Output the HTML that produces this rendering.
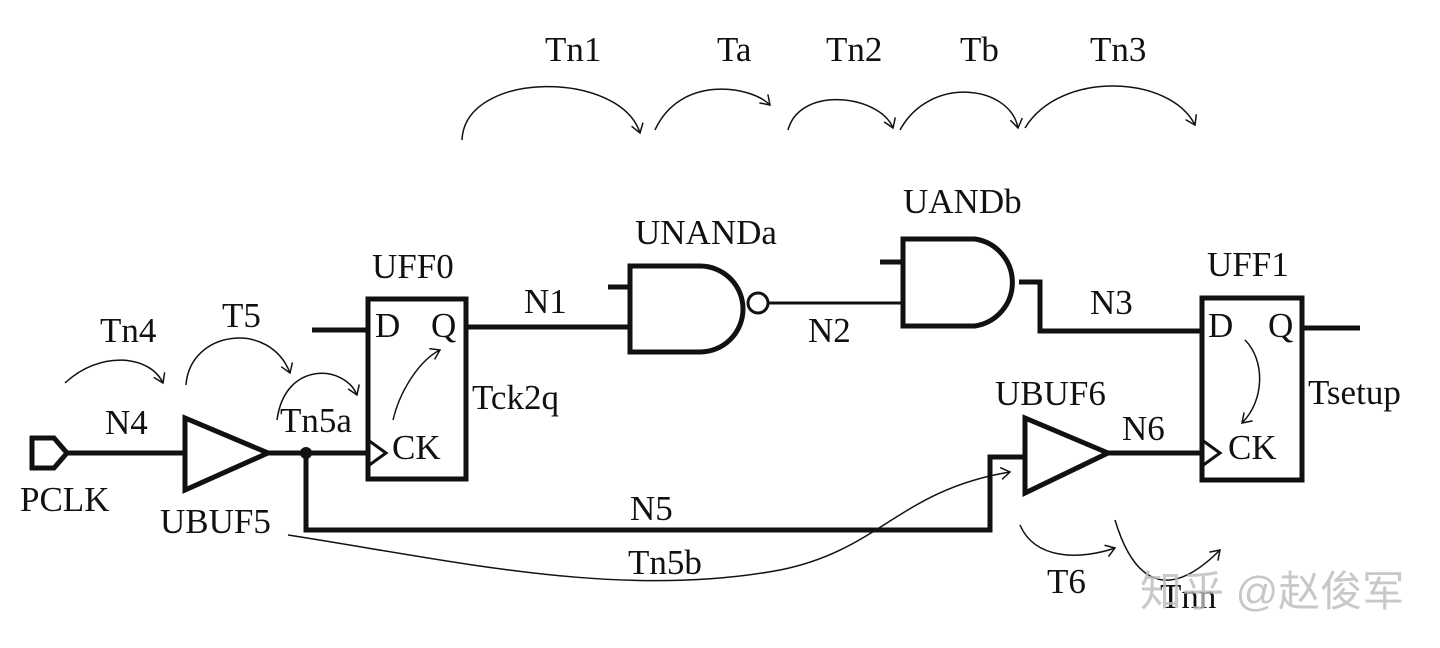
<!DOCTYPE html>
<html><head><meta charset="utf-8"><style>
html,body{margin:0;padding:0;background:#fff;}
svg{display:block}
text{font-family:"Liberation Serif",serif;font-size:35px;fill:#111;}
</style></head><body>
<svg width="1440" height="648" viewBox="0 0 1440 648" xmlns="http://www.w3.org/2000/svg">
<defs>
<marker id="a" markerWidth="14" markerHeight="14" refX="10" refY="7" orient="auto" markerUnits="userSpaceOnUse">
<path d="M1,1 L10,7 L1,13" fill="none" stroke="#111" stroke-width="1.5"/></marker>
</defs>
<g fill="none" stroke="#111" stroke-width="5">
<path d="M32,436 L32,470 M30,438 L54,438 L67,453 L54,468 L30,468"/>
<line x1="67" y1="453" x2="185" y2="453"/>
<path d="M185,418 L185,490 L268,453 Z"/>
<line x1="268" y1="453" x2="368" y2="453"/>
<path d="M306,453 L306,530 L990,530 L990,457 L1025,457"/>
<rect x="368" y="299" width="98" height="180"/>
<line x1="312" y1="330" x2="368" y2="330"/>
<line x1="466" y1="327" x2="630" y2="327"/>
<path d="M630,266 L630,352 L700,352 A43,43 0 0 0 700,266 Z"/>
<line x1="608" y1="287" x2="630" y2="287"/>
<path d="M903,239 L903,326 L975,326 A44,44 0 0 0 975,239 Z"/>
<line x1="880" y1="262" x2="903" y2="262"/>
<path d="M1019,282 L1040,282 L1040,331 L1202,331"/>
<rect x="1202" y="298" width="100" height="182"/>
<line x1="1302" y1="328" x2="1360" y2="328"/>
<path d="M1025,418 L1025,493 L1108,453 Z"/>
<line x1="1108" y1="453" x2="1202" y2="453"/>
</g>
<g fill="none" stroke="#111" stroke-width="3">
<circle cx="758" cy="303" r="10"/>
<line x1="768" y1="303" x2="903" y2="303"/>
<path d="M368,440 L386,453 L368,466"/>
<path d="M1202,440 L1220,453 L1202,466"/>
</g>
<circle cx="306" cy="453" r="6" fill="#111"/>
<g fill="none" stroke="#111" stroke-width="1.5" marker-end="url(#a)">
<path d="M65,383 C100,350 150,355 163,383"/>
<path d="M186,385 C190,330 270,320 290,373"/>
<path d="M277,420 C285,360 345,365 357,395"/>
<path d="M393,420 C400,390 420,360 440,350"/>
<path d="M1245,340 C1265,360 1265,400 1242,423"/>
<path d="M462,140 C465,70 620,70 640,133"/>
<path d="M655,130 C680,75 750,85 770,105"/>
<path d="M788,130 C800,85 880,95 893,128"/>
<path d="M900,130 C930,75 1010,85 1018,128"/>
<path d="M1025,128 C1060,70 1170,75 1195,125"/>
<path d="M288,535 C450,560 620,600 780,570 C880,550 900,490 1010,472"/>
<path d="M1020,525 C1035,560 1080,560 1115,548"/>
<path d="M1115,520 C1130,570 1160,610 1220,550"/>
</g>
<g>
<text x="372" y="278">UFF0</text>
<text x="635" y="244">UNANDa</text>
<text x="903" y="213">UANDb</text>
<text x="1207" y="276">UFF1</text>
<text x="375" y="337">D</text><text x="431" y="337">Q</text>
<text x="392" y="459">CK</text>
<text x="1208" y="337">D</text><text x="1268" y="337">Q</text>
<text x="1228" y="459">CK</text>
<text x="524" y="313">N1</text>
<text x="808" y="342">N2</text>
<text x="1090" y="314">N3</text>
<text x="105" y="434">N4</text>
<text x="630" y="520">N5</text>
<text x="1122" y="440">N6</text>
<text x="20" y="511">PCLK</text>
<text x="160" y="533">UBUF5</text>
<text x="995" y="405">UBUF6</text>
<text x="100" y="342">Tn4</text>
<text x="222" y="327">T5</text>
<text x="280" y="432">Tn5a</text>
<text x="472" y="409">Tck2q</text>
<text x="1308" y="404">Tsetup</text>
<text x="628" y="574">Tn5b</text>
<text x="1047" y="593">T6</text>
<text x="1160" y="608">Tnn</text>
<text x="545" y="61">Tn1</text>
<text x="717" y="61">Ta</text>
<text x="826" y="61">Tn2</text>
<text x="960" y="61">Tb</text>
<text x="1090" y="61">Tn3</text>
</g>
<text x="1140" y="606" style="font-family:'Liberation Sans','Noto Sans CJK SC',sans-serif;font-size:42px;fill:#bbb;opacity:0.8">知乎 @赵俊军</text>
</svg>
</body></html>
